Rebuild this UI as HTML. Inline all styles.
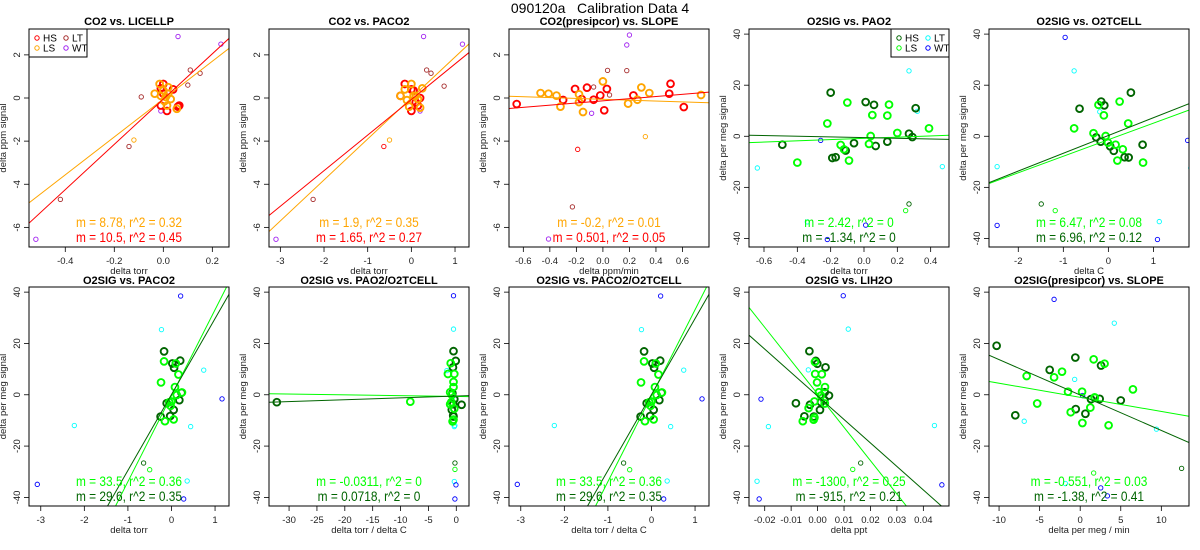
<!DOCTYPE html>
<html><head><meta charset="utf-8"><style>
html,body{margin:0;padding:0;background:#fff;width:1200px;height:550px;overflow:hidden;}
svg{display:block;font-family:"Liberation Sans",Arial,sans-serif;overflow:hidden;}
</style></head><body>
<svg id="chart" width="1200" height="550" viewBox="0 0 1200 550" xmlns="http://www.w3.org/2000/svg">
<text x="600" y="13" text-anchor="middle" font-size="14" style="white-space:pre">090120a   Calibration Data 4</text>
</svg>
<script>
// ---------- data ----------
const p1HS=[[-0.01,0.45],[0.0,0.65],[0.04,0.4],[0.06,-0.4],[0.065,-0.35],[-0.01,-0.35],[0.015,-0.6],[0.0,0.2]];
const p1LS=[[-0.015,0.65],[-0.035,0.2],[0.02,0.5],[0.0,0.35],[0.03,-0.05],[0.055,-0.5],[0.01,0.05],[-0.01,0.1],[0.015,-0.35],[0.005,-0.15],[0.02,0.2]];
const p1HSo=[];
const p1LSo=[[-0.12,-1.95]];
const p1LT=[[0.11,1.3],[0.15,1.15],[0.1,0.6],[-0.09,0.05],[-0.14,-2.25],[-0.42,-4.7]];
const p1WT=[[0.06,2.85],[0.235,2.5],[-0.01,-0.6],[-0.52,-6.55]];

const p2HS=[[-0.15,0.65],[0.0,0.4],[0.05,0.35],[0.2,0],[0.15,-0.35],[0.0,-0.6],[-0.25,0.1],[0.1,-0.2]];
const p2LS=[[-0.15,0.4],[0.0,0.65],[0.25,0.45],[-0.1,-0.1],[-0.05,-0.4],[0.1,0.1],[0.15,-0.05],[0.2,-0.45],[-0.25,0.1],[0.05,0.1]];
const p2HSo=[[-0.63,-2.25]];
const p2LSo=[[-0.5,-1.95]];
const p2LT=[[0.35,1.3],[0.45,1.15],[0.75,0.55],[-2.25,-4.7]];
const p2WT=[[0.28,2.85],[1.17,2.5],[0.2,-0.6],[-3.1,-6.55]];

const p3HS=[[-0.65,-0.28],[-0.3,-0.09],[-0.21,0.42],[-0.16,-0.05],[-0.12,0.48],[-0.07,-0.08],[-0.02,0.12],[0.01,-0.57],[0.03,0.42],[0.23,0.12],[0.5,0.2],[0.51,0.66],[0.61,-0.42]];
const p3LS=[[-0.47,0.23],[-0.41,0.2],[-0.35,0.11],[-0.32,-0.4],[-0.18,0.17],[-0.18,-0.19],[-0.15,-0.65],[0.0,0.77],[0.19,-0.26],[0.26,-0.08],[0.29,0.49],[0.35,0.23],[0.74,0.14]];
const p3HSo=[[-0.19,-2.38]];
const p3LSo=[[0.32,-1.79]];
const p3LT=[[0.035,1.28],[0.18,1.27],[-0.07,0.51],[0.05,0.14],[-0.23,-5.05]];
const p3WT=[[0.2,2.92],[0.18,2.46],[-0.085,-0.71],[-0.41,-6.54]];

const p4HS=[[-0.49,-3.3],[-0.2,17.1],[-0.19,-8.5],[-0.17,-8.2],[-0.11,-5.6],[-0.06,-2.7],[0.01,13.4],[0.06,12.3],[0.07,-3.8],[0.14,-2.1],[0.27,1.0],[0.29,-0.3],[0.31,11.0]];
const p4LS=[[-0.22,5.0],[-0.1,13.2],[-0.4,-10.3],[-0.14,-3.4],[-0.12,-5.1],[-0.09,-9.5],[0.03,-3.0],[0.04,0.1],[0.05,8.3],[0.14,8.1],[0.15,12.4],[0.2,1.3],[0.39,3.1]];
const p4HSo=[[0.27,-26.5]];
const p4LSo=[[0.25,-29.1]];
const p4LT=[[0.27,25.6],[0.32,9.8],[-0.64,-12.4],[0.47,-11.9],[-0.34,-33.5]];
const p4WT=[[-0.26,-1.6],[0.01,-34.8],[-0.22,-40.4]];

const p5HS=[[-0.64,10.8],[-0.16,13.6],[-0.09,12.1],[0.5,17.1],[0.76,-3.3],[0.36,-8.2],[0.45,-8.3],[0.12,-5.7],[-0.27,-0.4],[-0.17,-2.1],[0.04,-3.9]];
const p5LS=[[-0.76,3.1],[-0.33,1.2],[-0.22,12.3],[-0.1,8.2],[-0.06,0.1],[-0.01,-2.5],[0.16,-3.3],[0.25,13.6],[0.32,-5.1],[0.2,-9.5],[0.44,5.0],[0.77,-10.3]];
const p5HSo=[[-1.49,-26.5]];
const p5LSo=[[-1.18,-29.1]];
const p5LT=[[-0.76,25.6],[-0.19,9.6],[-2.47,-11.9],[1.83,-12.4],[1.13,-33.4]];
const p5WT=[[-0.96,38.7],[1.76,-1.6],[-2.47,-34.9],[1.09,-40.4]];

const p6HS=[[-0.17,16.9],[0.02,12.2],[0.2,13.3],[0.06,10.5],[-0.25,-8.5],[-0.03,-8.3],[0.05,-5.9],[0.18,-2.1],[-0.11,-3.3],[0.23,0.8]];
const p6LS=[[-0.17,13.0],[0.1,12.2],[0.16,7.9],[-0.24,4.8],[0.08,3.0],[0.12,-0.1],[0.24,0.9],[0.0,-2.6],[-0.02,-4.3],[-0.15,-10.3],[0.05,-9.6],[-0.05,-2.9]];
const p6HSo=[[-0.64,-26.6]];
const p6LSo=[[-0.5,-29.2]];
const p6LT=[[-0.23,25.4],[0.74,9.6],[-2.23,-12.0],[0.44,-12.4],[0.36,-33.6]];
const p6WT=[[0.21,38.5],[1.16,-1.6],[-3.08,-34.9],[0.28,-40.6]];

const p7HS=[[-32.2,-2.9],[0.95,-3.9],[-0.5,17.0],[-0.1,13.2],[-0.6,10.7],[-0.8,-5.9],[-0.5,-8.5],[-0.55,-8.1],[-0.55,-3.7],[-0.36,-1.7],[-0.7,0.6]];
const p7LS=[[-8.25,-2.7],[-1.0,12.3],[-0.36,8.1],[-1.5,8.1],[-0.5,5.0],[-0.5,3.0],[-0.8,0],[-1.1,1.0],[-0.36,-5.4],[-0.66,-10.4],[-0.5,-9.7],[-1.1,-3.7],[-0.9,-2.9]];
const p7HSo=[[-0.24,-26.6]];
const p7LSo=[[-0.24,-29.1]];
const p7LT=[[-0.5,25.6],[-1.7,9.4],[-0.36,-12.4],[-0.36,-33.8],[-0.25,-12.0]];
const p7WT=[[-0.5,38.6],[-0.06,-1.7],[-0.06,-35.1],[-0.25,-40.6]];

const p9HS=[[-0.0031,17.0],[-0.0007,13.2],[-0.0001,12.1],[0.003,10.7],[-0.0082,-3.3],[-0.0029,-3.9],[-0.005,-8.4],[-0.0014,-8.5],[0.0009,-5.9],[0.0013,-2.9],[0.0026,-2.0],[0.0043,-0.3],[0.0027,1.0]];
const p9LS=[[-0.001,12.8],[-0.0009,8.1],[0.0016,8.0],[-0.0002,4.8],[0.0028,3.0],[0.0005,1.0],[0.0013,-0.3],[0.0027,-3.4],[-0.0012,-2.6],[-0.0034,-5.2],[-0.0015,-9.7],[-0.0056,-10.3],[-0.0012,-8.9]];
const p9HSo=[[0.0163,-26.6]];
const p9LSo=[[0.0133,-29.1]];
const p9LT=[[0.0116,25.6],[-0.0035,9.7],[-0.0186,-12.4],[0.0442,-12.0],[-0.0229,-33.7]];
const p9WT=[[0.0097,38.6],[-0.0214,-1.7],[-0.0221,-40.6],[0.047,-35.1]];

const p10HS=[[-10.3,19.1],[-3.76,9.7],[-0.6,14.5],[2.57,11.4],[-8.0,-8.0],[-0.55,-5.6],[0.64,-7.4],[1.33,-1.7],[2.4,-1.6],[5.0,-2.2]];
const p10LS=[[-6.6,7.3],[-3.22,6.8],[-2.24,9.0],[1.66,13.8],[3.0,12.1],[6.5,2.1],[-1.5,1.2],[0.23,1.2],[-5.3,-3.4],[-1.17,-6.8],[1.25,-5.0],[1.78,-1.0],[0.27,-11.0],[3.5,-11.9],[1.8,-1.2]];
const p10HSo=[[12.5,-28.7]];
const p10LSo=[[1.66,-30.5]];
const p10LT=[[4.2,27.9],[-0.68,6.0],[-6.9,-10.3],[9.4,-13.4],[-1.83,-34.6]];
const p10WT=[[-3.22,37.2],[0.3,-0.3],[2.53,-36.3],[3.35,-39.4]];

// regression fits: [slope, intercept] for HS and LS
const fitHS=[[10.5,-0.05],[1.65,-0.07],[0.501,-0.13],[-1.34,-0.52],[6.96,0.3],[29.6,0.1],[0.0718,-0.49],[29.6,0.1],[-915,-0.5],[-1.38,-0.1]];
const fitLS=[[8.78,-0.05],[1.9,0],[-0.2,-0.06],[2.42,-0.83],[6.47,-1.35],[33.5,-0.35],[-0.0311,-0.65],[33.5,-0.35],[-1300,0.3],[-0.551,-1.0]];
const labelHS=["m = 10.5, r^2 = 0.45","m = 1.65, r^2 = 0.27","m = 0.501, r^2 = 0.05","m = -1.34, r^2 = 0","m = 6.96, r^2 = 0.12","m = 29.6, r^2 = 0.35","m = 0.0718, r^2 = 0","m = 29.6, r^2 = 0.35","m = -915, r^2 = 0.21","m = -1.38, r^2 = 0.41"];
const labelLS=["m = 8.78, r^2 = 0.32","m = 1.9, r^2 = 0.35","m = -0.2, r^2 = 0.01","m = 2.42, r^2 = 0","m = 6.47, r^2 = 0.08","m = 33.5, r^2 = 0.36","m = -0.0311, r^2 = 0","m = 33.5, r^2 = 0.36","m = -1300, r^2 = 0.25","m = -0.551, r^2 = 0.03"];
const titles=["CO2 vs. LICELLP","CO2 vs. PACO2","CO2(presipcor) vs. SLOPE","O2SIG vs. PAO2","O2SIG vs. O2TCELL","O2SIG vs. PACO2","O2SIG vs. PAO2/O2TCELL","O2SIG vs. PACO2/O2TCELL","O2SIG vs. LIH2O","O2SIG(presipcor) vs. SLOPE"];
const xLabels=["delta torr","delta torr","delta ppm/min","delta torr","delta C","delta torr","delta torr / delta C","delta torr / delta C","delta ppt","delta per meg / min"];
const xTicks=[[-0.4,-0.2,0.0,0.2],[-3,-2,-1,0,1],[-0.6,-0.4,-0.2,0.0,0.2,0.4,0.6],[-0.6,-0.4,-0.2,0.0,0.2,0.4],[-2,-1,0,1],[-3,-2,-1,0,1],[-30,-25,-20,-15,-10,-5,0],[-3,-2,-1,0,1],[-0.02,-0.01,0.00,0.01,0.02,0.03,0.04],[-10,-5,0,5,10]];
const xTickText=[["-0.4","-0.2","0.0","0.2"],["-3","-2","-1","0","1"],["-0.6","-0.4","-0.2","0.0","0.2","0.4","0.6"],["-0.6","-0.4","-0.2","0.0","0.2","0.4"],["-2","-1","0","1"],["-3","-2","-1","0","1"],["-30","-25","-20","-15","-10","-5","0"],["-3","-2","-1","0","1"],["-0.02","-0.01","0.00","0.01","0.02","0.03","0.04"],["-10","-5","0","5","10"]];
const yTicksCO2=[-6,-4,-2,0,2];
const yTicksO2=[-40,-20,0,20,40];

// ---------- layout ----------
const NS="http://www.w3.org/2000/svg";
const svg=document.getElementById('chart');
const xDom=[[-0.548,0.268],[-3.26,1.32],[-0.708,0.80],[-0.69,0.51],[-2.65,1.79],[-3.27,1.32],[-33.6,2.28],[-3.27,1.32],[-0.02594,0.0497],[-11.24,13.41]];
const yDomCO2=[-6.91,3.2], yDomO2=[-43.35,42.0];
const panelData=[[p1HS,p1LS,p1HSo,p1LSo,p1LT,p1WT],[p2HS,p2LS,p2HSo,p2LSo,p2LT,p2WT],[p3HS,p3LS,p3HSo,p3LSo,p3LT,p3WT],[p4HS,p4LS,p4HSo,p4LSo,p4LT,p4WT],[p5HS,p5LS,p5HSo,p5LSo,p5LT,p5WT],[p6HS,p6LS,p6HSo,p6LSo,p6LT,p6WT],[p7HS,p7LS,p7HSo,p7LSo,p7LT,p7WT],[p6HS,p6LS,p6HSo,p6LSo,p6LT,p6WT],[p9HS,p9LS,p9HSo,p9LSo,p9LT,p9WT],[p10HS,p10LS,p10HSo,p10LSo,p10LT,p10WT]];
const colCO2={HS:"#ff0000",LS:"#ffa500",LT:"#a52a2a",WT:"#a020f0"};
const colO2={HS:"#006400",LS:"#00ff00",LT:"#00ffff",WT:"#0000ff"};

function mk(tag,attrs,parent){const e=document.createElementNS(NS,tag);for(const k in attrs)e.setAttribute(k,attrs[k]);(parent||svg).appendChild(e);return e;}

for(let i=0;i<10;i++){
  const col=i%5,row=Math.floor(i/5);
  const L=29+240*col,R=229+240*col;
  const T=row?287:29,B=row?506:247;
  const co2=i<3;
  const yd=co2?yDomCO2:yDomO2, xd=xDom[i];
  const C=co2?colCO2:colO2;
  const sx=v=>L+(v-xd[0])/(xd[1]-xd[0])*(R-L);
  const sy=v=>B-(v-yd[0])/(yd[1]-yd[0])*(B-T);
  const g=mk('g',{});
  
  
  const clipId='clip'+i;
  const cp=mk('clipPath',{id:clipId},g);
  mk('rect',{x:L,y:T,width:R-L,height:B-T},cp);
  const t=mk('text',{x:(L+R)/2,y:row?287-3:25,'text-anchor':'middle','font-size':11,'font-weight':'bold'},g);
  t.textContent=titles[i];
  
  
  xTicks[i].forEach((v,k)=>{
    const x=sx(v);
    mk('line',{x1:x,x2:x,y1:B,y2:B+5,stroke:'#000','stroke-width':0.8},g);
    const tx=mk('text',{x:x,y:B+17,'text-anchor':'middle','font-size':9.5,fill:'#222'},g);
    tx.textContent=xTickText[i][k];
    
    
  });
  const yt=co2?yTicksCO2:yTicksO2;
  yt.forEach(v=>{
    const y=sy(v);
    mk('line',{x1:L-5,x2:L,y1:y,y2:y,stroke:'#000','stroke-width':0.8},g);
    const ty=mk('text',{x:L-9,y:y,'text-anchor':'middle','font-size':9.5,fill:'#222',transform:`rotate(-90 ${L-9} ${y})`},g);
    ty.textContent=String(v);
    
    
  });
  const xl=mk('text',{x:(L+R)/2,y:B+27,'text-anchor':'middle','font-size':9.5,fill:'#222'},g);
  xl.textContent=xLabels[i];
  
  
  const yx=L-23, ym=(T+B)/2;
  const yl=mk('text',{x:yx,y:ym,'text-anchor':'middle','font-size':9.5,fill:'#222',transform:`rotate(-90 ${yx} ${ym})`},g);
  yl.textContent=co2?'delta ppm signal':'delta per meg signal';
  
  
  const inner=mk('g',{'clip-path':`url(#${clipId})`},g);
  const [HS,LS,HSo,LSo,LT,WT]=panelData[i];
  const spec=[[LT,C.LT,2.2,0.9],[WT,C.WT,2.2,0.9],[HSo,C.HS,2.2,0.9],[LSo,C.LS,2.2,0.9],[HS,C.HS,3.4,1.9],[LS,C.LS,3.4,1.9]];
  const names=['lt-point','wt-point','hs-point','ls-point','hs-point','ls-point'];
  spec.forEach((s,si)=>{
    s[0].forEach(p=>{
      const c=mk('circle',{cx:sx(p[0]),cy:sy(p[1]),r:s[2],fill:'none',stroke:s[1],'stroke-width':s[3]},inner);
      
      
    });
  });
  [[fitLS[i],C.LS,'ls-fit-line'],[fitHS[i],C.HS,'hs-fit-line']].forEach(f=>{
    const m=f[0][0],b=f[0][1];
    const ln=mk('line',{x1:sx(xd[0]),y1:sy(m*xd[0]+b),x2:sx(xd[1]),y2:sy(m*xd[1]+b),stroke:f[1],'stroke-width':1},inner);
    
    
  });
  const cx=(L+R)/2;
  const a1=mk('text',{x:0,y:0,'text-anchor':'middle','font-size':14,fill:C.LS,transform:`translate(${cx} ${B-20}) scale(0.85 1)`},g);
  a1.textContent=labelLS[i];
  
  
  const a2=mk('text',{x:0,y:0,'text-anchor':'middle','font-size':14,fill:C.HS,transform:`translate(${cx} ${B-5}) scale(0.85 1)`},g);
  a2.textContent=labelHS[i];
  
  
  mk('rect',{x:L,y:T,width:R-L,height:B-T,fill:'none',stroke:'#000','stroke-width':1},g);
  if(i===0||i===3){
    const lw=58,lh=28;
    const lx=i===0?L:R-lw, ly=T;
    const lg=mk('g',{},g);
    
    
    mk('rect',{x:lx,y:ly,width:lw,height:lh,fill:'#fff',stroke:'#000','stroke-width':1},lg);
    const ent=[['HS',C.HS,0,0],['LT',C.LT,1,0],['LS',C.LS,0,1],['WT',C.WT,1,1]];
    ent.forEach(e=>{
      const ex=lx+8+e[2]*29, ey=ly+9+e[3]*10;
      const eg=mk('g',{},lg);
      
      
      mk('circle',{cx:ex,cy:ey,r:2.2,fill:'none',stroke:e[1],'stroke-width':1},eg);
      const et=mk('text',{x:ex+6,y:ey+3.5,'font-size':10,fill:'#000'},eg);
      et.textContent=e[0];
    });
  }
}
</script>
</body></html>
